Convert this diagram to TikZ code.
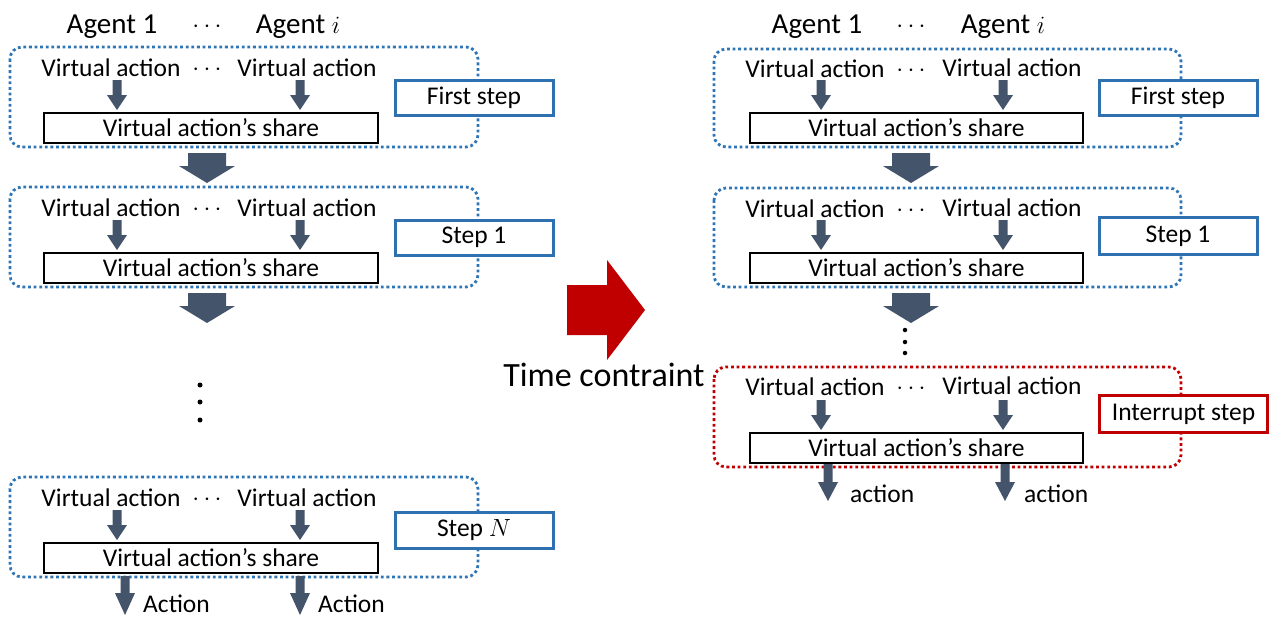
\documentclass[tikz,border=0pt]{standalone}
\usepackage{fontspec}
\setmainfont{Carlito}
\definecolor{dotblue}{HTML}{2E75B6}
\definecolor{stepblue}{HTML}{2E70B0}
\definecolor{arrgray}{HTML}{44546A}
\definecolor{redc}{HTML}{C00000}
\newcommand\barrow[6]{\fill[arrgray] ({#1-#5},#2) -- ({#1+#5},#2) -- ({#1+#5},#3) -- ({#1+#6},#3) -- (#1,#4) -- ({#1-#6},#3) -- ({#1-#5},#3) -- cycle;}
\newcommand\smallarr[2]{\barrow{#1}{#2}{#2+15}{#2+30}{4.5}{10}}
\newcommand\bigarr[2]{\barrow{#1}{#2}{#2+13}{#2+30}{19}{28}}
\tikzset{
  txt/.style={inner sep=0pt, font=\fontsize{25.5}{28}\selectfont},
  agent/.style={inner sep=0pt, font=\fontsize{29}{32}\selectfont},
  grp/.style={draw=dotblue, line width=2.8pt, dash pattern=on 2.8pt off 2.8pt, rounded corners=12pt},
  redgrp/.style={draw=redc, line width=2.8pt, dash pattern=on 2.8pt off 2.8pt, rounded corners=12pt},
  sharebox/.style={draw=black, line width=1.3pt, fill=white, inner sep=0pt, font=\fontsize{25.5}{28}\selectfont},
  stepbox/.style={draw=stepblue, line width=3pt, fill=white, inner sep=0pt, font=\fontsize{25.5}{28}\selectfont},
  redstepbox/.style={draw=redc, line width=3pt, fill=white, inner sep=0pt, font=\fontsize{25.5}{28}\selectfont},
  dotc/.style={circle, fill=black, inner sep=0pt, minimum size=5pt},
}
\begin{document}
\begin{tikzpicture}[x=1pt,y=-1pt]
\useasboundingbox (0,0) rectangle (1269,616);
% ---------------- Left panel ----------------
\node[agent] (la1) at (112,27) {Agent 1};
\node[agent] (lad) at (207,27) {$\cdots$};
\node[agent] (lai) at (298,27) {Agent $i$};
% block 1
\draw[grp] (10,47) rectangle (478,147);
\node[txt] (l1v1) at (111,68) {Virtual action};
\node[txt] (l1d) at (207,70) {$\cdots$};
\node[txt] (l1v2) at (307,68) {Virtual action};
\smallarr{117}{80}
\smallarr{300}{80}
\node[sharebox, minimum width=334pt, minimum height=30pt] (l1s) at (211,128) {Virtual action’s share};
\node[stepbox, minimum width=158pt, minimum height=35pt] (l1st) at (474,97.5) {First step};
\bigarr{207}{153}
% block 2
\draw[grp] (10,187) rectangle (478,287);
\node[txt] (l2v1) at (111,208) {Virtual action};
\node[txt] (l2d) at (207,210) {$\cdots$};
\node[txt] (l2v2) at (307,208) {Virtual action};
\smallarr{117}{220}
\smallarr{300}{220}
\node[sharebox, minimum width=334pt, minimum height=30pt] (l2s) at (211,268) {Virtual action’s share};
\node[stepbox, minimum width=158pt, minimum height=35pt] (l2st) at (474,237.5) {Step 1};
\bigarr{207}{293}
% vertical dots
\node[dotc] (ld1) at (200,385) {};
\node[dotc] (ld2) at (200,402) {};
\node[dotc] (ld3) at (200,420) {};
% block N
\draw[grp] (10,477) rectangle (478,577);
\node[txt] (l3v1) at (111,498) {Virtual action};
\node[txt] (l3d) at (207,500) {$\cdots$};
\node[txt] (l3v2) at (307,498) {Virtual action};
\smallarr{117}{510}
\smallarr{300}{510}
\node[sharebox, minimum width=334pt, minimum height=30pt] (l3s) at (211,558) {Virtual action’s share};
\node[stepbox, minimum width=158pt, minimum height=36pt] (l3st) at (474,530) {Step $N$};
\barrow{125}{576}{593}{615}{4.5}{10}
\barrow{300}{576}{593}{615}{4.5}{10}
\node[txt, anchor=base west] (lact1) at (143,612) {Action};
\node[txt, anchor=base west] (lact2) at (318,612) {Action};
% ---------------- Middle ----------------
\fill[redc] (567,285) -- (607,285) -- (607,260) -- (645,310) -- (607,360) -- (607,335) -- (567,335) -- cycle;
\node[inner sep=0pt, font=\fontsize{34}{38}\selectfont] (tc) at (604,375) {Time contraint};
% ---------------- Right panel ----------------
\node[agent] (ra1) at (817,27) {Agent 1};
\node[agent] (rad) at (911,27) {$\cdots$};
\node[agent] (rai) at (1003,27) {Agent $i$};
% block 1
\draw[grp] (714,49) rectangle (1181,147);
\node[txt] (r1v1) at (815,69) {Virtual action};
\node[txt] (r1d) at (911,71) {$\cdots$};
\node[txt] (r1v2) at (1012,68) {Virtual action};
\smallarr{821}{80}
\smallarr{1003}{80}
\node[sharebox, minimum width=333pt, minimum height=30pt] (r1s) at (916.5,128) {Virtual action’s share};
\node[stepbox, minimum width=158pt, minimum height=35pt] (r1st) at (1178,97.5) {First step};
\bigarr{911}{153}
% block 2
\draw[grp] (714,188) rectangle (1181,287);
\node[txt] (r2v1) at (815,209) {Virtual action};
\node[txt] (r2d) at (911,211) {$\cdots$};
\node[txt] (r2v2) at (1012,208) {Virtual action};
\smallarr{821}{220}
\smallarr{1003}{220}
\node[sharebox, minimum width=333pt, minimum height=30pt] (r2s) at (916.5,268) {Virtual action’s share};
\node[stepbox, minimum width=158pt, minimum height=37pt] (r2st) at (1178,236) {Step 1};
\bigarr{911}{293}
\node[dotc, minimum size=4.5pt] (rd1) at (905,330) {};
\node[dotc, minimum size=4.5pt] (rd2) at (905,342) {};
\node[dotc, minimum size=4.5pt] (rd3) at (905,353) {};
% interrupt block
\draw[redgrp] (714,367) rectangle (1181,467);
\node[txt] (r3v1) at (815,387) {Virtual action};
\node[txt] (r3d) at (911,389) {$\cdots$};
\node[txt] (r3v2) at (1012,386) {Virtual action};
\smallarr{821}{400}
\smallarr{1003}{400}
\node[sharebox, minimum width=333pt, minimum height=30pt] (r3s) at (916.5,448) {Virtual action’s share};
\node[redstepbox, minimum width=168pt, minimum height=37pt] (r3st) at (1183.5,414) {Interrupt step};
\barrow{828}{464}{482}{501}{4.5}{10}
\barrow{1005}{464}{482}{501}{4.5}{10}
\node[txt, anchor=base west] (ract1) at (850,502) {action};
\node[txt, anchor=base west] (ract2) at (1024,502) {action};
\end{tikzpicture}
\end{document}
